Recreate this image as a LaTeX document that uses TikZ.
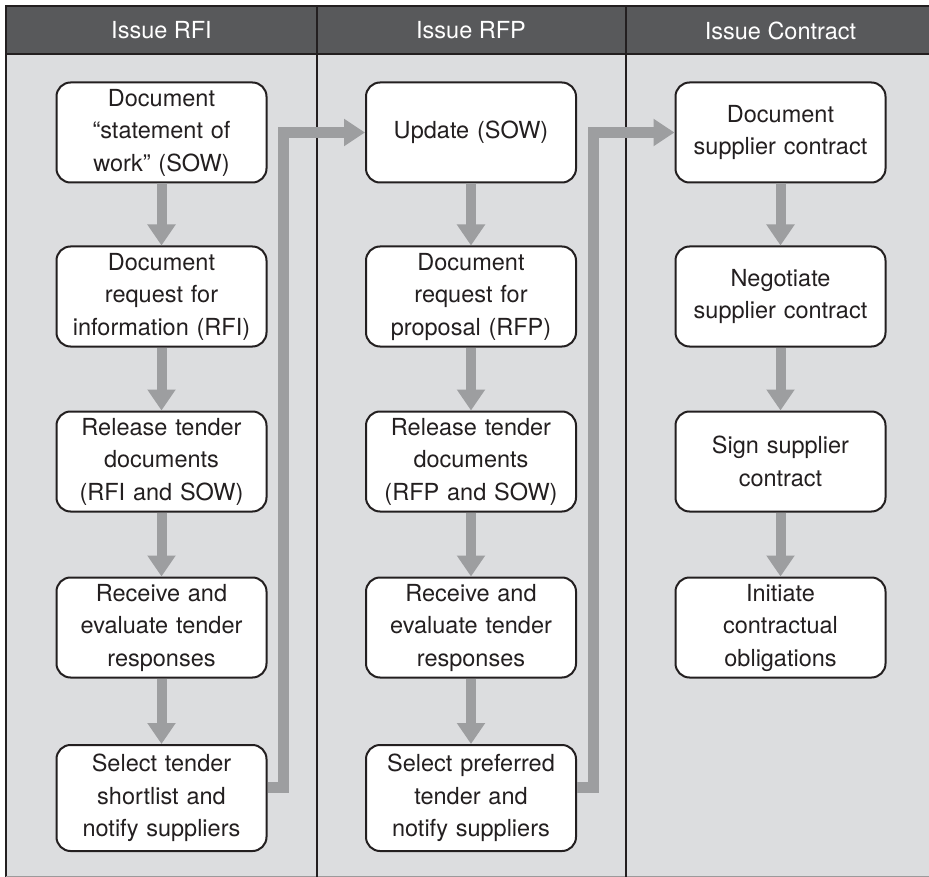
\documentclass[tikz,border=0pt]{standalone}
\usepackage{fontspec}
\setmainfont{TeX Gyre Heros}
\usetikzlibrary{arrows.meta}
\definecolor{ink}{HTML}{231F20}
\definecolor{headfill}{HTML}{58595B}
\definecolor{lanefill}{HTML}{DCDDDF}
\definecolor{flow}{HTML}{9D9EA0}
\begin{document}
\begin{tikzpicture}[x=1pt,y=-1pt,
  stepbox/.style={draw=ink, line width=2pt, fill=white, rounded corners=14pt,
    minimum width=210pt, minimum height=100pt, text width=204pt, align=center,
    inner sep=0pt, font=\fontsize{23.5}{32.5}\selectfont, text=ink},
  lanehead/.style={text=white, font=\fontsize{23.5}{28}\selectfont},
  frameline/.style={draw=ink, line width=2.5pt},
  flowarrow/.style={draw=flow, line width=10pt, -{Triangle[length=21pt,width=27pt]}},
  handoff/.style={draw=flow, line width=11pt, -{Triangle[length=21pt,width=26pt]}}]
\useasboundingbox (0,0) rectangle (929,877);

% lanes and header band
\fill[lanefill] (6,6) rectangle (940,876);
\fill[headfill] (6,6) rectangle (940,54);
\draw[frameline] (6,877) -- (6,6) -- (940,6);
\draw[frameline] (6,54) -- (940,54);
\draw[draw=ink!45, line width=2pt] (6,877) -- (940,877);
\draw[frameline] (317,6) -- (317,877);
\draw[frameline] (626,6) -- (626,877);

% lane titles
\node[lanehead] (hR) at (161.5,30.5) {Issue RFI};
\node[lanehead] (hP) at (471,30.5) {Issue RFP};
\node[lanehead] (hC) at (780.5,30.5) {Issue Contract};

% RFI lane
\node[stepbox] (r1) at (161.5,132.5) {Document\\``statement of\\work'' (SOW)};
\node[stepbox] (r2) at (161.5,296.5) {Document\\request for\\information (RFI)};
\node[stepbox] (r3) at (161.5,461.5) {Release tender\\documents\\(RFI and SOW)};
\node[stepbox] (r4) at (161.5,627.5) {Receive and\\evaluate tender\\responses};
\node[stepbox, minimum height=106pt] (r5) at (161.5,798) {Select tender\\shortlist and\\notify suppliers};

% RFP lane
\node[stepbox] (p1) at (471,132.5) {Update (SOW)};
\node[stepbox] (p2) at (471,296.5) {Document\\request for\\proposal (RFP)};
\node[stepbox] (p3) at (471,461.5) {Release tender\\documents\\(RFP and SOW)};
\node[stepbox] (p4) at (471,627.5) {Receive and\\evaluate tender\\responses};
\node[stepbox, minimum height=106pt] (p5) at (471,798) {Select preferred\\tender and\\notify suppliers};

% Contract lane
\node[stepbox] (c1) at (780.5,132.5) {Document\\supplier contract};
\node[stepbox] (c2) at (780.5,296.5) {Negotiate\\supplier contract};
\node[stepbox] (c3) at (780.5,461.5) {Sign supplier\\contract};
\node[stepbox] (c4) at (780.5,627.5) {Initiate\\contractual\\obligations};

% flow within lanes
\draw[flowarrow] (r1) -- (r2);
\draw[flowarrow] (r2) -- (r3);
\draw[flowarrow] (r3) -- (r4);
\draw[flowarrow] (r4) -- (r5);
\draw[flowarrow] (p1) -- (p2);
\draw[flowarrow] (p2) -- (p3);
\draw[flowarrow] (p3) -- (p4);
\draw[flowarrow] (p4) -- (p5);
\draw[flowarrow] (c1) -- (c2);
\draw[flowarrow] (c2) -- (c3);
\draw[flowarrow] (c3) -- (c4);

% hand-offs between lanes
\draw[handoff] ([yshift=11pt]r5.east) -- ++(16,0) |- (p1.west);
\draw[handoff] ([yshift=11pt]p5.east) -- ++(16,0) |- (c1.west);
\end{tikzpicture}
\end{document}
